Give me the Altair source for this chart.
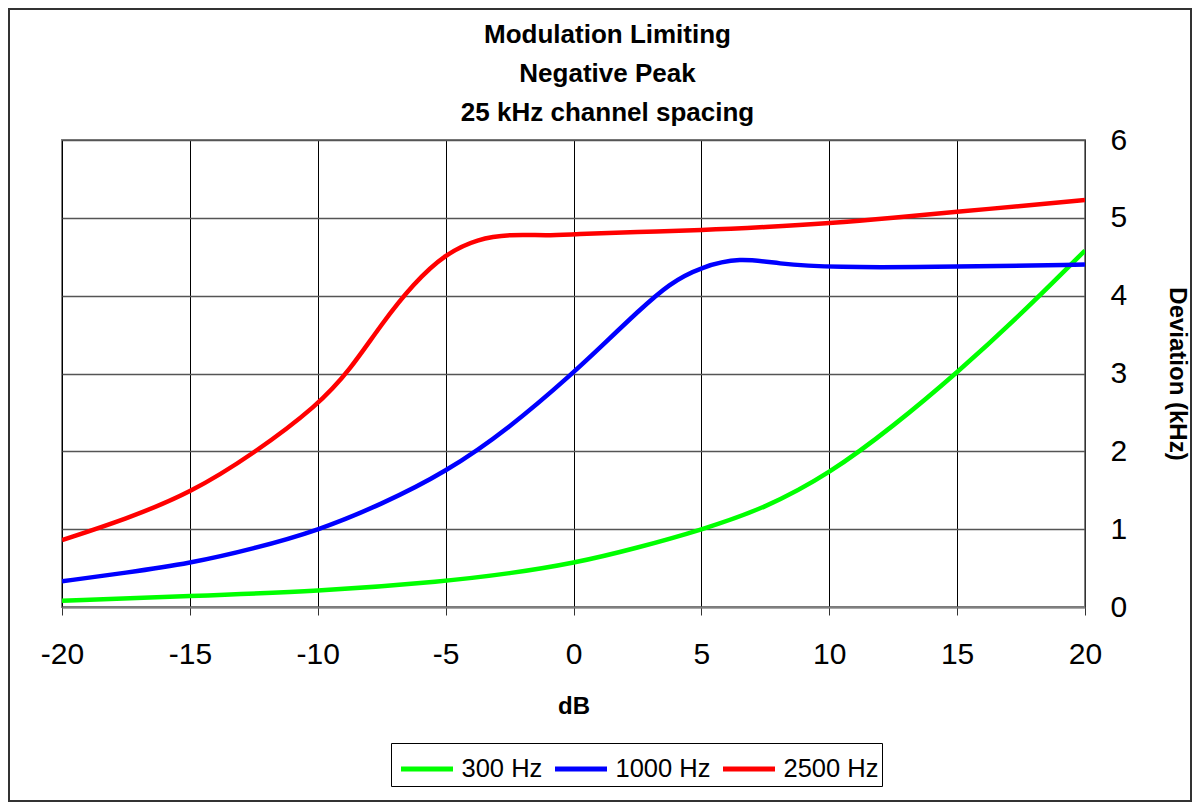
import altair as alt
import pandas as pd

# ---- data ----
x_300 = [-20, -15, -10, -5, -2.5, 0, 2.5, 5, 7.5, 10, 12.5, 15, 17.5, 20]
y_300 = [0.08, 0.14, 0.20, 0.33, 0.43, 0.56, 0.76, 0.99, 1.27, 1.71, 2.32, 3.01, 3.76, 4.58]

x_1000 = [-20, -17.5, -15, -12.5, -10, -7.5, -5, -2.5, 0, 1.25, 2.5, 3.75, 5, 6.5, 8, 10, 15, 20]
y_1000 = [0.33, 0.44, 0.56, 0.75, 0.98, 1.32, 1.73, 2.30, 3.01, 3.40, 3.79, 4.16, 4.37, 4.49, 4.41, 4.36, 4.37, 4.40]

x_2500 = [-20, -17.5, -15, -12.5, -10, -8.75, -7.5, -6.25, -5, -3.75, -2.5, -1, 0, 2.5, 5, 7.5, 10, 12.5, 15, 17.5, 20]
y_2500 = [0.86, 1.13, 1.46, 1.97, 2.59, 3.04, 3.64, 4.16, 4.54, 4.73, 4.79, 4.77, 4.79, 4.82, 4.84, 4.88, 4.93, 5.00, 5.08, 5.15, 5.23]

series_names = ["300 Hz", "1000 Hz", "2500 Hz"]
series_colors = ["#00FF00", "#0000FF", "#FF0000"]

title_lines = ["Modulation Limiting", "Negative Peak", "25 kHz channel spacing"]
x_ticks = [-20, -15, -10, -5, 0, 5, 10, 15, 20]
y_ticks = [0, 1, 2, 3, 4, 5, 6]

rows = []
for name, xs, ys in zip(series_names, [x_300, x_1000, x_2500], [y_300, y_1000, y_2500]):
    for i, (a, b) in enumerate(zip(xs, ys)):
        rows.append({"dB": a, "dev": b, "series": name, "order": i})
df = pd.DataFrame(rows)

FONT = "Liberation Sans, Arial"

lines = alt.Chart(df).mark_line(strokeWidth=4.5, interpolate="basis", clip=True).encode(
    x=alt.X("dB:Q", scale=alt.Scale(domain=[-20, 20], nice=False),
            axis=alt.Axis(values=x_ticks, title="dB", grid=True, gridColor="#000000", gridWidth=1,
                          labelExpr="datum.value + ''",
                          labelFont=FONT, labelFontSize=30, labelColor="#000",
                          labelFlush=False, labelPadding=24, tickSize=8, tickColor="#333",
                          domainColor="#808080", domainWidth=2,
                          titleFont=FONT, titleFontSize=24, titleFontWeight="bold",
                          titleColor="#000", titlePadding=25)),
    y=alt.Y("dev:Q", scale=alt.Scale(domain=[0, 6], nice=False),
            axis=alt.Axis(orient="right", values=y_ticks, title="Deviation (kHz)",
                          grid=True, gridColor="#555555", gridWidth=1.5,
                          labelFont=FONT, labelFontSize=30, labelColor="#000",
                          labelFlush=False, labelOverlap=False, labelPadding=25, ticks=False,
                          domain=True, domainColor="#333", domainWidth=1,
                          titleFont=FONT, titleFontSize=24, titleFontWeight="bold",
                          titleColor="#000", titlePadding=38)),
    color=alt.Color("series:N", scale=alt.Scale(domain=series_names, range=series_colors),
                    sort=series_names,
                    legend=alt.Legend(title=None, orient="none", legendX=329, legendY=603,
                                      direction="horizontal",
                                      symbolType="M-0.8,0L1.8,0",
                                      symbolSize=1600, symbolStrokeWidth=5,
                                      symbolFillColor="transparent",
                                      labelFont=FONT, labelFontSize=25.5, labelColor="#000",
                                      labelOffset=22, columnPadding=2, padding=3.5,
                                      strokeColor="#000", fillColor="#fff")),
    order="order:Q",
)

border = alt.Chart(df).mark_rect(filled=False, stroke="#333333", strokeWidth=2).encode(
    x=alt.value(-53), x2=alt.value(1129), y=alt.value(-131), y2=alt.value(661)
)

chart = alt.layer(border, lines).properties(
    width=1023, height=467,
    padding={"left": 54, "top": 132, "right": 107, "bottom": 195},
    autosize=alt.AutoSizeParams(type="none"),
    title=alt.TitleParams(text=title_lines, font=FONT, fontSize=26, fontWeight="bold",
                          lineHeight=39, anchor="middle", dx=34, offset=-118, color="#000"),
    background="#ffffff",
).configure_view(stroke="#808080", strokeWidth=2)

chart.save("out.html", embed_options={"renderer": "svg", "actions": False})
